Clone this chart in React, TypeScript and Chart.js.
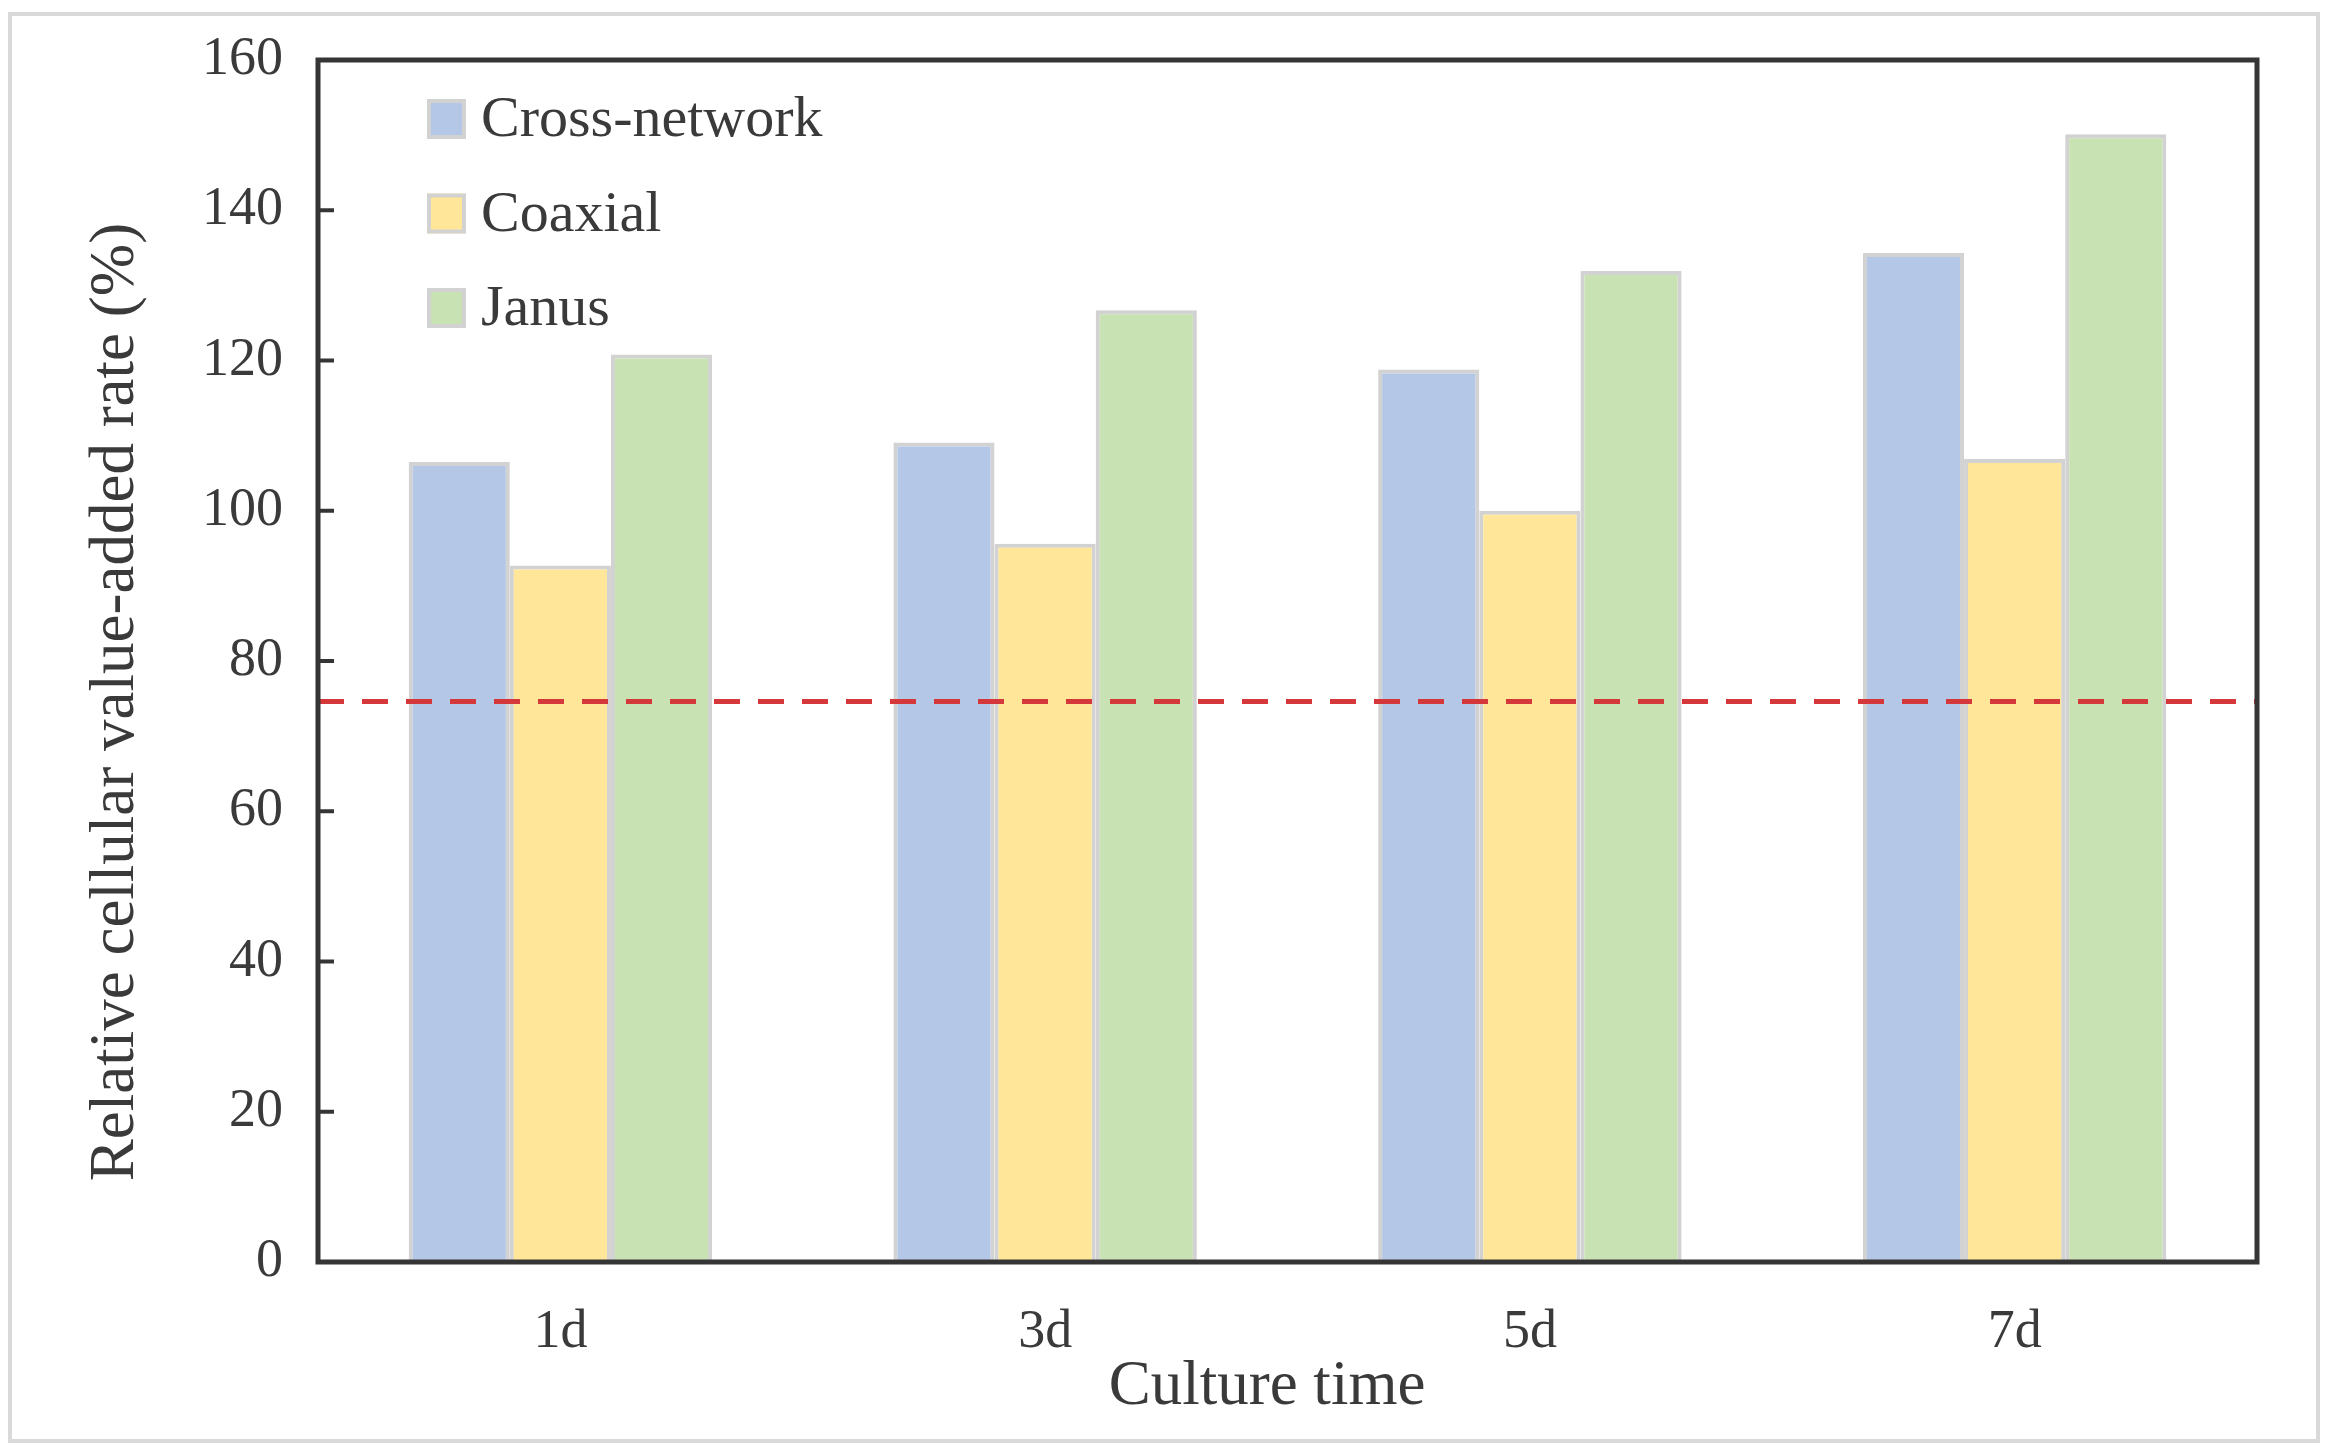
import React, { useEffect, useRef } from 'react';
import { Chart, registerables } from 'chart.js';

Chart.register(...registerables);

// ---- data ----
const CATEGORIES = ['1d', '3d', '5d', '7d'];
const SERIES_NAMES = ['Cross-network', 'Coaxial', 'Janus'];
const CROSS_NETWORK = [106.5, 109.1, 118.8, 134.3];
const COAXIAL = [92.7, 95.6, 100.0, 106.9];
const JANUS = [120.8, 126.7, 131.9, 150.1];
const REFERENCE_LINE = [74.6];
const Y_MIN = 0;
const Y_MAX = 160;
const Y_STEP = 20;
const X_TITLE = 'Culture time';
const Y_TITLE = 'Relative cellular value-added rate (%)';

// ---- style ----
const W = 2333;
const H = 1456;
const FONT = '"Liberation Serif", "Times New Roman", Times, serif';
const TEXT_COLOR = '#3a3a3a';
const COLORS = ['#b4c7e7', '#ffe699', '#c9e2b3'];
const BAR_BORDER = '#d2d2d2';

const decorPlugin = {
  id: 'decor',
  beforeDraw(chart: any) {
    const { ctx } = chart;
    ctx.save();
    ctx.fillStyle = '#ffffff';
    ctx.fillRect(0, 0, W, H);
    ctx.strokeStyle = '#d9d9d9';
    ctx.lineWidth = 4;
    ctx.strokeRect(10, 14, 2308, 1427);
    ctx.restore();
  },
  afterDatasetsDraw(chart: any) {
    const { ctx, chartArea, scales } = chart;
    const { left, right, top, bottom } = chartArea;
    const y = scales.y;

    // reference dashed line
    ctx.save();
    const yy = y.getPixelForValue(REFERENCE_LINE[0]);
    ctx.strokeStyle = '#d5383b';
    ctx.lineWidth = 5;
    ctx.setLineDash([26, 18]);
    ctx.beginPath();
    ctx.moveTo(left, yy);
    ctx.lineTo(right, yy);
    ctx.stroke();
    ctx.restore();

    // inward tick marks
    ctx.save();
    ctx.strokeStyle = '#353535';
    ctx.lineWidth = 4;
    y.ticks.forEach((t: any) => {
      const py = y.getPixelForValue(t.value);
      ctx.beginPath();
      ctx.moveTo(left, py);
      ctx.lineTo(left + 16, py);
      ctx.stroke();
    });
    // frame
    ctx.lineWidth = 5;
    ctx.strokeRect(left, top, right - left, bottom - top);
    ctx.restore();

    // legend (inside plot, top-left)
    ctx.save();
    const rowStart = 119;
    const rowGap = 94.5;
    chart.data.datasets.forEach((ds: any, i: number) => {
      const cy = rowStart + i * rowGap;
      ctx.fillStyle = ds.backgroundColor;
      ctx.fillRect(427, cy - 20, 39, 40);
      ctx.strokeStyle = BAR_BORDER;
      ctx.lineWidth = 4;
      ctx.strokeRect(429, cy - 18, 35, 36);
      ctx.fillStyle = TEXT_COLOR;
      ctx.font = `58px ${FONT}`;
      ctx.textAlign = 'left';
      ctx.textBaseline = 'middle';
      ctx.fillText(ds.label, 481, cy + 2);
    });
    ctx.restore();

    // axis titles
    ctx.save();
    ctx.fillStyle = TEXT_COLOR;
    ctx.font = `63px ${FONT}`;
    ctx.textAlign = 'center';
    ctx.textBaseline = 'middle';
    ctx.fillText(X_TITLE, 1267, 1387);
    ctx.translate(116, 702);
    ctx.rotate(-Math.PI / 2);
    ctx.fillText(Y_TITLE, 0, 0);
    ctx.restore();
  },
};

export default function App() {
  const ref = useRef<HTMLCanvasElement | null>(null);

  useEffect(() => {
    if (!ref.current) return;
    const seriesValues = [CROSS_NETWORK, COAXIAL, JANUS];
    const chart = new Chart(ref.current, {
      type: 'bar',
      data: {
        labels: CATEGORIES,
        datasets: SERIES_NAMES.map((name, i) => ({
          label: name,
          data: seriesValues[i],
          backgroundColor: COLORS[i],
          borderColor: BAR_BORDER,
          borderWidth: 4,
          borderSkipped: 'start',
          categoryPercentage: 0.626,
          barPercentage: 1.0,
        })),
      },
      options: {
        responsive: false,
        devicePixelRatio: 1,
        animation: false,
        layout: { padding: { top: 60, right: 76, left: 0, bottom: 0 } },
        plugins: {
          legend: { display: false },
          tooltip: { enabled: false },
        },
        scales: {
          x: {
            grid: { display: false, drawTicks: false },
            border: { display: false },
            ticks: {
              font: { family: FONT, size: 54 },
              color: TEXT_COLOR,
              padding: 38,
            },
            afterFit: (s: any) => {
              s.height = 194;
              s.paddingLeft = 0;
              s.paddingRight = 0;
            },
          },
          y: {
            min: Y_MIN,
            max: Y_MAX,
            grid: { display: false, drawTicks: false },
            border: { display: false },
            ticks: {
              stepSize: Y_STEP,
              font: { family: FONT, size: 54 },
              color: TEXT_COLOR,
              padding: 35,
            },
            afterFit: (s: any) => {
              s.width = 318;
              s.paddingTop = 0;
              s.paddingBottom = 0;
            },
          },
        },
      },
      plugins: [decorPlugin],
    });
    return () => chart.destroy();
  }, []);

  return (
    <div style={{ position: 'absolute', left: 0, top: 0, width: W, height: H, background: '#fff' }}>
      <canvas ref={ref} width={W} height={H} style={{ display: 'block', width: W, height: H }} />
    </div>
  );
}
